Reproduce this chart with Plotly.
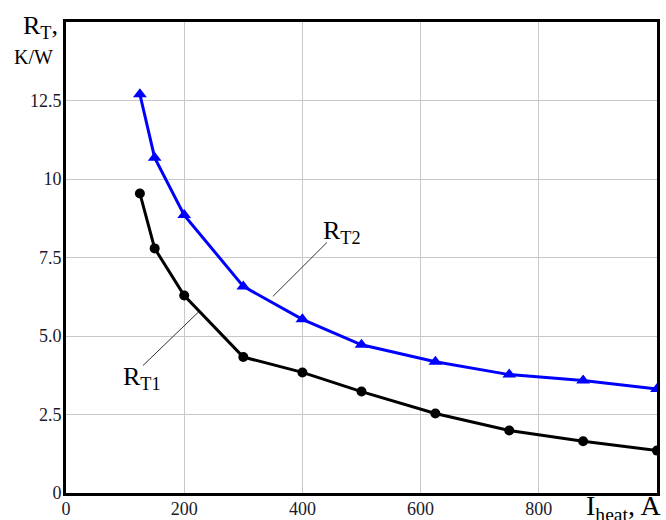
import plotly.graph_objects as go

# Data
current_A = [125, 150, 200, 300, 400, 500, 625, 750, 875, 1000]
rt1_values = [9.54, 7.79, 6.29, 4.33, 3.84, 3.23, 2.53, 1.99, 1.65, 1.35]
rt2_values = [12.70, 10.68, 8.85, 6.58, 5.53, 4.72, 4.18, 3.77, 3.58, 3.31]

x_tickvals = [0, 200, 400, 600, 800]
x_ticktext = ["0", "200", "400", "600", "800"]
y_tickvals = [0, 2.5, 5, 7.5, 10, 12.5]
y_ticktext = ["0", "2.5", "5.0", "7.5", "10", "12.5"]

SERIF = "Liberation Serif"

fig = go.Figure()
fig.add_trace(go.Scatter(
    x=current_A, y=rt2_values, mode="lines+markers", name="RT2",
    line=dict(color="#0000ff", width=3),
    marker=dict(symbol="triangle-up", size=12, color="#0000ff"),
    showlegend=False))
fig.add_trace(go.Scatter(
    x=current_A, y=rt1_values, mode="lines+markers", name="RT1",
    line=dict(color="#000000", width=3),
    marker=dict(symbol="circle", size=10, color="#000000"),
    showlegend=False))

axis_common = dict(
    showline=True, linewidth=3, linecolor="black", mirror=True,
    showgrid=True, gridcolor="#c8c8c8", gridwidth=1, zeroline=False,
    ticks="", automargin=False,
    tickfont=dict(family=SERIF, size=18, color="#1a1a2a"),
)

fig.update_xaxes(range=[0, 1000], tickvals=x_tickvals, ticktext=x_ticktext,
                 ticklabelstandoff=-3, **axis_common)
fig.update_yaxes(range=[0, 15], tickvals=y_tickvals, ticktext=y_ticktext,
                 ticklabelstandoff=-2, **axis_common)

# leader lines for curve labels
fig.add_shape(type="line", x0=350, y0=6.26, x1=441.6, y1=7.98,
              line=dict(color="#333333", width=1))
fig.add_shape(type="line", x0=130.3, y0=4.06, x1=223.4, y1=5.75,
              line=dict(color="#333333", width=1))

annotations = [
    dict(text="R<sub>T2</sub>", x=431, y=8.3, xref="x", yref="y",
         xanchor="left", yanchor="middle", showarrow=False,
         font=dict(family=SERIF, size=26, color="black")),
    dict(text="R<sub>T1</sub>", x=93, y=3.65, xref="x", yref="y",
         xanchor="left", yanchor="middle", showarrow=False,
         font=dict(family=SERIF, size=26, color="black")),
    dict(text="R<sub>T</sub>,", x=0, y=1, xref="paper", yref="paper",
         xanchor="right", yanchor="middle", xshift=-6, yshift=-5,
         showarrow=False, font=dict(family=SERIF, size=26, color="black")),
    dict(text="K/W", x=0, y=1, xref="paper", yref="paper",
         xanchor="right", yanchor="middle", xshift=-11, yshift=-35,
         showarrow=False, font=dict(family=SERIF, size=20, color="black")),
    dict(text="I<sub>heat</sub>, A", x=1, y=0, xref="paper", yref="paper",
         xanchor="right", yanchor="top", xshift=6, yshift=5,
         showarrow=False, font=dict(family=SERIF, size=28, color="black")),
]

fig.update_layout(
    width=666, height=520,
    margin=dict(l=66, r=9, t=22, b=27),
    paper_bgcolor="white", plot_bgcolor="white",
    annotations=annotations,
    font=dict(family=SERIF),
)

fig.write_html(
    "out.html",
    config={"displayModeBar": False},
    post_script="document.body.style.margin='0';document.body.style.overflow='hidden';",
)
